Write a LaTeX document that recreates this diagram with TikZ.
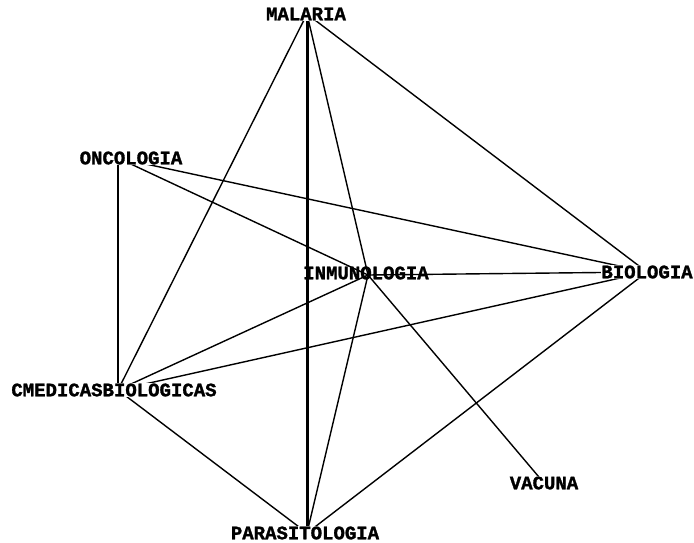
\documentclass[tikz,border=0pt]{standalone}
\usepackage{fontspec}
\newfontfamily\plotfont{Liberation Mono}[FakeBold=1.5]
\usetikzlibrary{backgrounds}

\begin{document}
\begin{tikzpicture}[x=1pt, y=-1pt]
    \tikzstyle{term} = [fill=white, inner sep=0.5pt, font=\plotfont\bfseries\fontsize{19}{19}\selectfont]
    \tikzstyle{link} = [line width=1.4pt]
    \tikzstyle{heavy} = [line width=3pt]

    \useasboundingbox (0,0) rectangle (694,543);

    % hubs where the lines meet
    \coordinate (malhub) at (307,14);
    \coordinate (onchub) at (118,158);
    \coordinate (inmhub) at (368,275);
    \coordinate (biohub) at (647,272);
    \coordinate (cmedhub) at (118,390);
    \coordinate (vachub) at (544,483);
    \coordinate (parahub) at (307,533);

    \node (mal) [term] at (306,14) {MALARIA};
    \node (onc) [term] at (131,158) {ONCOLOGIA};
    \node (inm) [term, fill=none] at (366,273) {INMUNOLOGIA};
    \node (bio) [term] at (647,272) {BIOLOGIA};
    \node (cmed) [term] at (114,390) {CMEDICASBIOLOGICAS};
    \node (vac) [term] at (544,483) {VACUNA};
    \node (para) [term] at (305,533) {PARASITOLOGIA};

    \begin{scope}[on background layer]
    \draw [link] (malhub) -- (cmedhub);
    \draw [heavy] (malhub) -- (parahub);
    \draw [link] (malhub) -- (inmhub);
    \draw [link] (malhub) -- (biohub);
    \draw [link] (onchub) -- (cmedhub);
    \draw [link] (onchub) -- (inmhub);
    \draw [link] (onchub) -- (biohub);
    \draw [link] (inmhub) -- (biohub);
    \draw [link] (inmhub) -- (cmedhub);
    \draw [link] (inmhub) -- (parahub);
    \draw [link] (inmhub) -- (vachub);
    \draw [link] (cmedhub) -- (biohub);
    \draw [link] (cmedhub) -- (parahub);
    \draw [link] (parahub) -- (biohub);
    \end{scope}
\end{tikzpicture}
\end{document}
